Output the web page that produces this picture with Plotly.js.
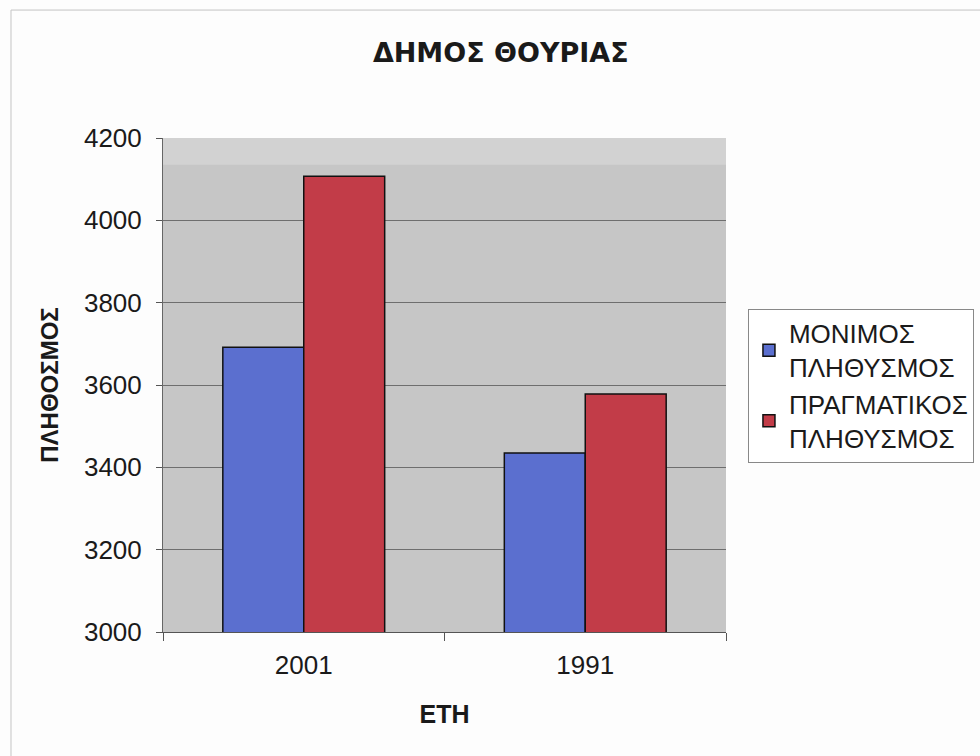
<!DOCTYPE html>
<html>
<head>
<meta charset="utf-8">
<script src="https://cdn.plot.ly/plotly-3.0.1.min.js"></script>
<style>html,body{margin:0;padding:0;background:#fff;}#chart{width:980px;height:756px;}</style>
</head>
<body>
<div id="chart"></div>
<script>
const years = ["2001", "1991"];
const seriesNames = ["ΜΟΝΙΜΟΣ<br>ΠΛΗΘΥΣΜΟΣ", "ΠΡΑΓΜΑΤΙΚΟΣ<br>ΠΛΗΘΥΣΜΟΣ"];
const permanentPop = [3692, 3435];
const actualPop = [4107, 3578];
const yTicks = [3000, 3200, 3400, 3600, 3800, 4000, 4200];

const font = "Liberation Sans, Arial, sans-serif";
const traces = [
  {type: "bar", name: seriesNames[0], x: years, y: permanentPop,
   marker: {color: "#5b6fcf", line: {color: "#111", width: 1.5}}},
  {type: "bar", name: seriesNames[1], x: years, y: actualPop,
   marker: {color: "#c23c48", line: {color: "#111", width: 1.5}}}
];
const layout = {
  width: 980, height: 756,
  margin: {l: 163, r: 254, t: 138, b: 124, autoexpand: false},
  paper_bgcolor: "#fdfdfd",
  plot_bgcolor: "#c6c6c6",
  barmode: "group", bargap: 0.425, bargroupgap: 0,
  font: {family: font, color: "#1a1a1a", size: 26},
  title: {text: "<b>ΔΗΜΟΣ ΘΟΥΡΙΑΣ</b>", font: {size: 27, family: "DejaVu Sans, sans-serif", color: "#1a1a1a"},
          x: 0.511, xanchor: "center", y: 0.931, yanchor: "middle"},
  xaxis: {type: "category", tickson: "boundaries", ticks: "outside", ticklen: 8,
          tickcolor: "#555", showline: true, linecolor: "#555", linewidth: 1,
          showgrid: false, tickfont: {size: 26}, fixedrange: true, ticklabelstandoff: 10,
          automargin: false,
          title: {text: "<b>ΕΤΗ</b>", font: {size: 25}, standoff: 26}},
  yaxis: {range: [3000, 4200], tickvals: yTicks, ticks: "outside", ticklen: 6,
          tickcolor: "#555", showline: true, linecolor: "#666", linewidth: 1,
          showgrid: true, gridcolor: "#6e6e6e", gridwidth: 1, zeroline: false,
          tickfont: {size: 26}, fixedrange: true, ticklabelstandoff: 9,
          automargin: false,
          title: {text: "<b>ΠΛΗΘΟΣΜΟΣ</b>", font: {size: 24}, standoff: 18}},
  legend: {x: 1.039, xanchor: "left", y: 0.654, yanchor: "top",
           bgcolor: "#ffffff", bordercolor: "#888", borderwidth: 1,
           font: {size: 26, family: font, color: "#1a1a1a"},
           itemwidth: 30, tracegroupgap: 4},
  shapes: [
    {type: "rect", xref: "paper", yref: "y", x0: 0, x1: 1, y0: 4135, y1: 4200,
     fillcolor: "#d2d2d2", line: {width: 0}, layer: "below"},
    {type: "rect", xref: "paper", yref: "paper", x0: -0.27, x1: 1.5, y0: -0.3, y1: 1.259,
     fillcolor: "rgba(0,0,0,0)", line: {color: "#c4c4c4", width: 1}}
  ]
};
Plotly.newPlot("chart", traces, layout, {displayModeBar: false, staticPlot: true});
</script>
</body>
</html>
